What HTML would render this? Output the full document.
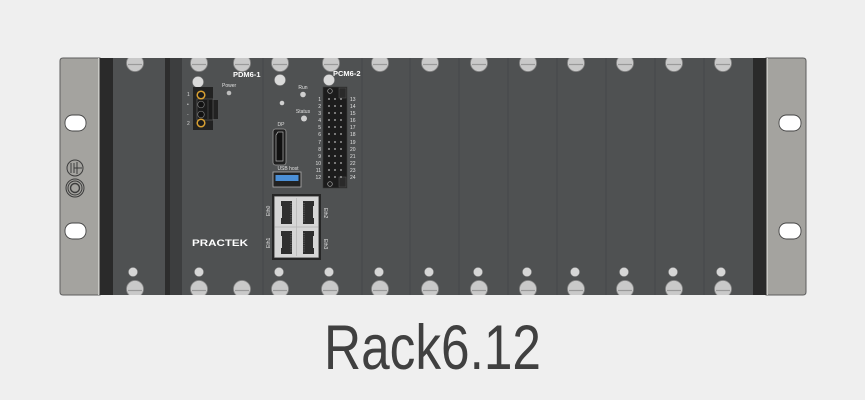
<!DOCTYPE html>
<html><head><meta charset="utf-8"><style>
html,body{margin:0;padding:0;background:#efefef;}
svg{display:block;}
text{font-family:"Liberation Sans",sans-serif;}
</style></head><body>
<svg width="865" height="400" viewBox="0 0 865 400" xmlns="http://www.w3.org/2000/svg">
<defs>
<clipPath id="pc"><rect x="100" y="58" width="666" height="237"/></clipPath>
<g id="scr"><circle r="8.5" fill="#c9c9c9" stroke="#8a8a8a" stroke-width="0.8"/><line x1="-7" y1="1.5" x2="7" y2="1.5" stroke="#9a9a9a" stroke-width="1.2"/></g>
</defs>
<rect width="865" height="400" fill="#efefef"/>
<!-- ears -->
<path d="M63,58 H100 V295 H63 Q60,295 60,292 V61 Q60,58 63,58 Z" fill="#a4a39f" stroke="#5e5e5e" stroke-width="1"/>
<path d="M766,58 H803 Q806,58 806,61 V292 Q806,295 803,295 H766 Z" fill="#a4a39f" stroke="#5e5e5e" stroke-width="1"/>
<line x1="98.5" y1="58" x2="98.5" y2="295" stroke="#c9c9c5" stroke-width="1"/>
<line x1="767.5" y1="58" x2="767.5" y2="295" stroke="#c9c9c5" stroke-width="1"/>
<!-- holes -->
<g fill="#ffffff" stroke="#444" stroke-width="0.9">
<rect x="65" y="115" width="21" height="16" rx="7.5"/>
<rect x="65" y="223" width="21" height="16" rx="7.5"/>
<rect x="779" y="115" width="22" height="16" rx="7.5"/>
<rect x="779" y="223" width="22" height="16" rx="7.5"/>
</g>
<!-- ground symbol -->
<g fill="none" stroke="#3c3c3c" stroke-width="1">
<circle cx="75" cy="168" r="8"/>
<line x1="71" y1="163" x2="71" y2="173"/><line x1="74" y1="163" x2="74" y2="173"/>
<line x1="74" y1="168" x2="82" y2="168"/><line x1="77" y1="162" x2="77" y2="174"/>
<circle cx="75" cy="188" r="9"/><circle cx="75" cy="188" r="7"/><circle cx="75" cy="188" r="4.5" stroke-width="1.4"/>
</g>
<!-- black strips & panel -->
<rect x="100" y="58" width="13" height="237" fill="#2a2a2a"/>
<rect x="753" y="58" width="13" height="237" fill="#2a2a2a"/>
<rect x="113" y="58" width="640" height="237" fill="#4f5152"/>
<rect x="165" y="58" width="5" height="237" fill="#2d2d2d"/>
<rect x="170" y="58" width="12" height="237" fill="#3d3e3f"/>
<g stroke="#464849" stroke-width="1">
<line x1="263" y1="58" x2="263" y2="295"/><line x1="362" y1="58" x2="362" y2="295"/>
<line x1="410" y1="58" x2="410" y2="295"/><line x1="459" y1="58" x2="459" y2="295"/>
<line x1="508" y1="58" x2="508" y2="295"/><line x1="557" y1="58" x2="557" y2="295"/>
<line x1="606" y1="58" x2="606" y2="295"/><line x1="655" y1="58" x2="655" y2="295"/>
<line x1="704" y1="58" x2="704" y2="295"/>
</g>
<!-- screws -->
<g clip-path="url(#pc)">
<use href="#scr" x="135" y="63"/><use href="#scr" x="199" y="63"/><use href="#scr" x="242" y="63"/>
<use href="#scr" x="280" y="63"/><use href="#scr" x="331" y="63"/><use href="#scr" x="380" y="63"/>
<use href="#scr" x="430" y="63"/><use href="#scr" x="479" y="63"/><use href="#scr" x="528" y="63"/>
<use href="#scr" x="576" y="63"/><use href="#scr" x="625" y="63"/><use href="#scr" x="674" y="63"/>
<use href="#scr" x="723" y="63"/>
<use href="#scr" x="135" y="289"/><use href="#scr" x="199" y="289"/><use href="#scr" x="242" y="289"/>
<use href="#scr" x="280" y="289"/><use href="#scr" x="330" y="289"/><use href="#scr" x="380" y="289"/>
<use href="#scr" x="430" y="289"/><use href="#scr" x="479" y="289"/><use href="#scr" x="528" y="289"/>
<use href="#scr" x="576" y="289"/><use href="#scr" x="625" y="289"/><use href="#scr" x="674" y="289"/>
<use href="#scr" x="723" y="289"/>
</g>
<!-- bottom LEDs -->
<g fill="#d6d6d6" stroke="#999" stroke-width="0.5">
<circle cx="133" cy="272" r="4.5"/><circle cx="199" cy="272" r="4.5"/><circle cx="279" cy="272" r="4.5"/>
<circle cx="329" cy="272" r="4.5"/><circle cx="379" cy="272" r="4.5"/><circle cx="429" cy="272" r="4.5"/>
<circle cx="478" cy="272" r="4.5"/><circle cx="527" cy="272" r="4.5"/><circle cx="575" cy="272" r="4.5"/>
<circle cx="624" cy="272" r="4.5"/><circle cx="673" cy="272" r="4.5"/><circle cx="721" cy="272" r="4.5"/>
</g>
<!-- top LEDs -->
<g fill="#dadada" stroke="#999" stroke-width="0.5">
<circle cx="198" cy="82" r="5.5"/><circle cx="280" cy="80" r="5.5"/><circle cx="329" cy="80" r="5.5"/>
</g>
<!-- PDM6-1 -->
<text x="233" y="77" font-size="7.5" font-weight="bold" fill="#ffffff">PDM6-1</text>
<text x="222" y="87" font-size="5" fill="#e0e0e0">Power</text>
<circle cx="229" cy="93" r="2.3" fill="#bdbdbd"/>
<rect x="193" y="87" width="20" height="43" fill="#222"/>
<rect x="213" y="100" width="5" height="19" fill="#222"/>
<rect x="197" y="99" width="16" height="21" fill="#1a1a1a" stroke="#666" stroke-width="0.6"/>
<line x1="208" y1="100" x2="208" y2="119" stroke="#555" stroke-width="0.6"/>
<circle cx="201" cy="95" r="3.8" fill="#1a1a1a" stroke="#d9a032" stroke-width="1.5"/>
<circle cx="201" cy="123" r="3.8" fill="#1a1a1a" stroke="#d9a032" stroke-width="1.5"/>
<circle cx="201" cy="104.5" r="3.3" fill="#111" stroke="#777" stroke-width="0.7"/>
<circle cx="201" cy="114.5" r="3.3" fill="#111" stroke="#777" stroke-width="0.7"/>
<g font-size="5" fill="#d0d0d0">
<text x="187" y="96">1</text><text x="187" y="106">•</text><text x="187" y="116">-</text><text x="187" y="125">2</text>
</g>
<text x="192" y="246" font-size="9" font-weight="bold" fill="#ffffff" textLength="56" lengthAdjust="spacingAndGlyphs">PRACTEK</text>
<!-- CPU -->
<circle cx="282" cy="103" r="2.3" fill="#d0d0d0"/>
<text x="303" y="89" font-size="5" fill="#e0e0e0" text-anchor="middle">Run</text>
<circle cx="303" cy="94.5" r="2.8" fill="#cfcfcf"/>
<text x="303" y="113" font-size="5" fill="#e0e0e0" text-anchor="middle">Status</text>
<circle cx="304" cy="118.5" r="3" fill="#cfcfcf"/>
<text x="281" y="126" font-size="5" fill="#e0e0e0" text-anchor="middle">DP</text>
<rect x="273" y="129" width="13" height="36" rx="2.5" fill="#1e1e1e" stroke="#9a9a9a" stroke-width="0.8"/>
<path d="M276,135 L278,132 H283 V161 H276 Z" fill="#111" stroke="#b0b0b0" stroke-width="0.7"/>
<text x="288" y="170" font-size="5" fill="#e0e0e0" text-anchor="middle">USB host</text>
<rect x="273" y="172" width="28" height="15" fill="#222" stroke="#b0b0b0" stroke-width="0.8"/>
<rect x="275.5" y="175" width="23" height="6" fill="#4b8fd6"/>
<!-- PCM6-2 -->
<text x="333" y="76" font-size="7.5" font-weight="bold" fill="#ffffff">PCM6-2</text>
<rect x="323" y="87" width="24" height="101" fill="#1c1c1c" stroke="#3a3a3a" stroke-width="0.6"/>
<rect x="339" y="88" width="7" height="10" fill="#2a2a2a" stroke="#555" stroke-width="0.5"/>
<rect x="339" y="177" width="7" height="10" fill="#2a2a2a" stroke="#555" stroke-width="0.5"/>
<circle cx="330" cy="91" r="2.3" fill="#1c1c1c" stroke="#aaa" stroke-width="0.7"/>
<circle cx="330" cy="184" r="2.3" fill="#1c1c1c" stroke="#aaa" stroke-width="0.7"/>
<g fill="#bbb">
<circle cx="329" cy="99" r="0.9"/><circle cx="335" cy="99" r="0.9"/><circle cx="341" cy="99" r="0.9"/>
<circle cx="329" cy="106" r="0.9"/><circle cx="335" cy="106" r="0.9"/><circle cx="341" cy="106" r="0.9"/>
<circle cx="329" cy="113" r="0.9"/><circle cx="335" cy="113" r="0.9"/><circle cx="341" cy="113" r="0.9"/>
<circle cx="329" cy="120" r="0.9"/><circle cx="335" cy="120" r="0.9"/><circle cx="341" cy="120" r="0.9"/>
<circle cx="329" cy="127" r="0.9"/><circle cx="335" cy="127" r="0.9"/><circle cx="341" cy="127" r="0.9"/>
<circle cx="329" cy="134" r="0.9"/><circle cx="335" cy="134" r="0.9"/><circle cx="341" cy="134" r="0.9"/>
<circle cx="329" cy="142" r="0.9"/><circle cx="335" cy="142" r="0.9"/><circle cx="341" cy="142" r="0.9"/>
<circle cx="329" cy="149" r="0.9"/><circle cx="335" cy="149" r="0.9"/><circle cx="341" cy="149" r="0.9"/>
<circle cx="329" cy="156" r="0.9"/><circle cx="335" cy="156" r="0.9"/><circle cx="341" cy="156" r="0.9"/>
<circle cx="329" cy="163" r="0.9"/><circle cx="335" cy="163" r="0.9"/><circle cx="341" cy="163" r="0.9"/>
<circle cx="329" cy="170" r="0.9"/><circle cx="335" cy="170" r="0.9"/><circle cx="341" cy="170" r="0.9"/>
<circle cx="329" cy="177" r="0.9"/><circle cx="335" cy="177" r="0.9"/><circle cx="341" cy="177" r="0.9"/>
</g>
<g font-size="5" fill="#e0e0e0" text-anchor="end">
<text x="321" y="101">1</text><text x="321" y="108">2</text><text x="321" y="115">3</text><text x="321" y="122">4</text>
<text x="321" y="129">5</text><text x="321" y="136">6</text><text x="321" y="144">7</text><text x="321" y="151">8</text>
<text x="321" y="158">9</text><text x="321" y="165">10</text><text x="321" y="172">11</text><text x="321" y="179">12</text>
</g>
<g font-size="5" fill="#e0e0e0">
<text x="350" y="101">13</text><text x="350" y="108">14</text><text x="350" y="115">15</text><text x="350" y="122">16</text>
<text x="350" y="129">17</text><text x="350" y="136">18</text><text x="350" y="144">19</text><text x="350" y="151">20</text>
<text x="350" y="158">21</text><text x="350" y="165">22</text><text x="350" y="172">23</text><text x="350" y="179">24</text>
</g>
<!-- Ethernet -->
<rect x="272" y="194" width="49" height="66" fill="#262626"/>
<rect x="274.5" y="196.5" width="44" height="61" fill="#d6d6d6" stroke="#9a9a9a" stroke-width="0.5"/>
<line x1="274.5" y1="227" x2="318.5" y2="227" stroke="#b0b0b0" stroke-width="0.8"/>
<g fill="#2e2e2e">
<rect x="281" y="201" width="11" height="23"/><rect x="303" y="201" width="11" height="23"/>
<rect x="281" y="231" width="11" height="23"/><rect x="303" y="231" width="11" height="23"/>
</g>
<g fill="#d6d6d6">
<rect x="277" y="206" width="5" height="12"/><rect x="313" y="206" width="5" height="12"/>
<rect x="277" y="236" width="5" height="12"/><rect x="313" y="236" width="5" height="12"/>
</g>
<g stroke="#9a9a9a" stroke-width="0.6">
<line x1="291" y1="203" x2="291" y2="222" stroke-dasharray="1,1.2"/>
<line x1="304" y1="203" x2="304" y2="222" stroke-dasharray="1,1.2"/>
<line x1="291" y1="233" x2="291" y2="252" stroke-dasharray="1,1.2"/>
<line x1="304" y1="233" x2="304" y2="252" stroke-dasharray="1,1.2"/>
</g>
<g stroke="#b8b8b8" stroke-width="0.8">
<line x1="296.5" y1="198" x2="296.5" y2="256"/>
</g>
<g font-size="5" fill="#e0e0e0">
<text transform="translate(270,216) rotate(-90)">Eth0</text>
<text transform="translate(270,248) rotate(-90)">Eth1</text>
<text transform="translate(324,208) rotate(90)">Eth2</text>
<text transform="translate(324,239) rotate(90)">Eth3</text>
</g>
<!-- Title -->
<text x="324" y="369" font-size="63" fill="#404040" textLength="217" lengthAdjust="spacingAndGlyphs">Rack6.12</text>
</svg>
</body></html>
